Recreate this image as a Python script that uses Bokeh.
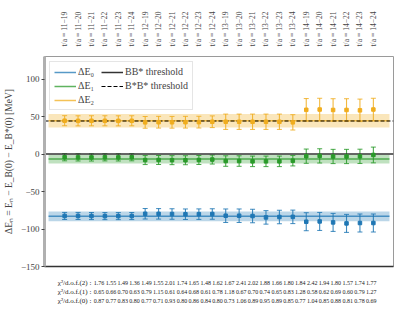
from bokeh.plotting import figure
from bokeh.models import (Range1d, FixedTicker, LinearAxis, Legend, LegendItem,
                          Whisker, TeeHead, ColumnDataSource)
from bokeh.layouts import column
from bokeh.core.properties import value
from bokeh.embed import file_html
from bokeh.resources import INLINE

# ---------------- data ----------------
fit_windows = ["t/a = 11−19", "t/a = 11−20", "t/a = 11−21", "t/a = 11−22", "t/a = 11−23", "t/a = 11−24",
               "t/a = 12−19", "t/a = 12−20", "t/a = 12−21", "t/a = 12−22", "t/a = 12−23", "t/a = 12−24",
               "t/a = 13−19", "t/a = 13−20", "t/a = 13−21", "t/a = 13−22", "t/a = 13−23", "t/a = 13−24",
               "t/a = 14−19", "t/a = 14−20", "t/a = 14−21", "t/a = 14−22", "t/a = 14−23", "t/a = 14−24"]
x_idx = list(range(len(fit_windows)))

dE0 = [-82.6, -82.6, -82.7, -82.8, -82.8, -82.7, -79.7, -79.8, -80.0, -80.3, -80.2, -80.0,
       -82.3, -82.3, -82.7, -84.5, -84.0, -83.8, -90.3, -89.9, -91.2, -92.5, -92.0, -92.0]
dE0_err = [4.7] * 6 + [7.0] * 6 + [9.0] * 6 + [12.0] * 6

dE1 = [-4.3, -4.5, -4.6, -4.4, -4.5, -4.3, -8.1, -8.0, -8.2, -8.3, -8.0, -7.4,
       -9.4, -9.4, -9.8, -9.8, -9.8, -8.9, -2.9, -2.5, -3.3, -3.3, -3.1, -1.3]
dE1_err = [4.8] * 6 + [6.0] * 6 + [7.0] * 6 + [9.5] * 5 + [10.5]

dE2 = [44.4, 44.2, 44.3, 44.3, 44.2, 44.3, 42.2, 42.4, 42.3, 42.4, 42.5, 43.0,
       43.0, 43.0, 43.0, 43.0, 43.0, 42.2, 58.9, 59.3, 58.7, 58.7, 58.2, 59.3]
dE2_err = [6.7] * 6 + [7.8] * 6 + [10.2] * 6 + [15.0] * 6

band_mean = [-83.0, -6.7, 44.4]
band_half = [6.5, 5.8, 8.9]

thr_bb = 0.0
thr_bsbs = 44.0

chi2_2 = [1.76, 1.55, 1.49, 1.36, 1.49, 1.55, 2.01, 1.74, 1.65, 1.48, 1.62, 1.67,
          2.41, 2.02, 1.88, 1.66, 1.80, 1.84, 2.42, 1.94, 1.80, 1.57, 1.74, 1.77]
chi2_1 = [0.65, 0.66, 0.70, 0.63, 0.79, 1.15, 0.61, 0.64, 0.68, 0.61, 0.78, 1.18,
          0.67, 0.70, 0.74, 0.65, 0.83, 1.28, 0.58, 0.62, 0.69, 0.60, 0.79, 1.27]
chi2_0 = [0.87, 0.77, 0.83, 0.80, 0.77, 0.71, 0.93, 0.80, 0.86, 0.84, 0.80, 0.73,
          1.06, 0.89, 0.95, 0.89, 0.85, 0.77, 1.04, 0.85, 0.88, 0.81, 0.78, 0.69]
row_labels = ["χ²/d.o.f.(2) :", "χ²/d.o.f.(1) :", "χ²/d.o.f.(0) :"]

y_ticks = [-150, -100, -50, 0, 50, 100]
legend_labels = ["ΔE₀", "ΔE₁", "ΔE₂", "BB* threshold", "B*B* threshold"]

# ---------------- style / layout ----------------
colors = ["#1f77b4", "#2a9a2a", "#f0ad1e"]
FONT = "Liberation Serif"
W = 398
B_LEFT, B_RIGHT, B_TOP, B_BOTTOM = 42, 5, 56, 4
H_MAIN, H_CHI = 270, 38
X_LO, X_HI = -1.5, 24.5
BAND_LO, BAND_HI = -1.2, 24.2

p = figure(width=W, height=H_MAIN, x_range=Range1d(X_LO, X_HI), y_range=Range1d(-150, 130),
           output_backend="svg", toolbar_location=None, x_axis_location=None,
           min_border_left=B_LEFT, min_border_right=B_RIGHT, min_border_top=B_TOP,
           min_border_bottom=B_BOTTOM)
p.grid.visible = False
p.outline_line_color = "#9a9a9a"
p.background_fill_color = "white"

# left axis
ya = p.yaxis[0]
ya.ticker = FixedTicker(ticks=y_ticks)
ya.major_label_overrides = {t: (str(t).replace("-", "−")) for t in y_ticks}
ya.axis_label = "ΔEₙ = Eₙ − E_B(0) − E_B*(0) [MeV]"
ya.axis_label_text_font = FONT
ya.axis_label_text_font_style = "normal"
ya.axis_label_text_font_size = "9.5px"
ya.axis_label_standoff = 4
ya.major_label_text_font = FONT
ya.major_label_text_font_size = "9px"
ya.major_label_standoff = 2
ya.major_tick_out = 3
ya.major_tick_in = 0
ya.major_tick_line_color = "#444444"
ya.minor_tick_line_color = None
ya.axis_line_color = "#b0b0b0"
ya.axis_line_width = 3

# top axis with fit windows
top_ax = LinearAxis(ticker=FixedTicker(ticks=x_idx),
                    major_label_overrides={i: lab for i, lab in zip(x_idx, fit_windows)},
                    major_label_orientation="vertical",
                    major_tick_line_color=None, minor_tick_line_color=None,
                    axis_line_color=None,
                    major_label_text_font=FONT, major_label_text_font_size="7.6px",
                    major_label_standoff=4)
p.add_layout(top_ax, "above")

# bottom spine
bot_ax = LinearAxis(ticker=FixedTicker(ticks=[]), axis_line_color="#333333", axis_line_width=1.5,
                    major_tick_line_color=None, minor_tick_line_color=None,
                    major_label_text_font_size="0px", major_tick_out=0, major_label_standoff=0)
p.add_layout(bot_ax, "below")

# bands
band_lines = []
for m, h, c in zip(band_mean, band_half, colors):
    p.varea(x=[BAND_LO, BAND_HI], y1=[m - h, m - h], y2=[m + h, m + h], fill_color=c, fill_alpha=0.3)
    band_lines.append(p.line(x=[BAND_LO, BAND_HI], y=[m, m], line_color=c, line_alpha=0.75, line_width=1.5))

# thresholds
l_bb = p.line(x=[X_LO, X_HI], y=[thr_bb, thr_bb], line_color="#333333", line_width=1.5)
l_bsbs = p.line(x=[X_LO, X_HI], y=[thr_bsbs, thr_bsbs], line_color="black", line_width=1.2, line_dash="4 2")

# points with errors
for vals, errs, c in zip([dE0, dE1, dE2], [dE0_err, dE1_err, dE2_err], colors):
    src = ColumnDataSource(dict(x=x_idx, y=vals,
                                lo=[v - e for v, e in zip(vals, errs)],
                                up=[v + e for v, e in zip(vals, errs)]))
    wk = Whisker(source=src, base="x", lower="lo", upper="up", line_color=c, line_width=1.1,
                 line_alpha=0.85,
                 lower_head=TeeHead(size=5, line_color=c, line_width=1, line_alpha=0.85),
                 upper_head=TeeHead(size=5, line_color=c, line_width=1, line_alpha=0.85))
    p.add_layout(wk)
    p.scatter("x", "y", source=src, marker="square", size=3.5, color=c)

legend = Legend(items=[LegendItem(label=legend_labels[0], renderers=[band_lines[0]]),
                       LegendItem(label=legend_labels[1], renderers=[band_lines[1]]),
                       LegendItem(label=legend_labels[2], renderers=[band_lines[2]]),
                       LegendItem(label=legend_labels[3], renderers=[l_bb]),
                       LegendItem(label=legend_labels[4], renderers=[l_bsbs])],
                ncols=2, location="top_left",
                label_text_font=FONT, label_text_font_size="10px",
                glyph_width=22, glyph_height=10, label_height=10, label_standoff=2,
                spacing=3, padding=4, margin=5,
                border_line_color="#cccccc", background_fill_alpha=0.9)
p.add_layout(legend)

# chi^2 rows below
px_per_unit = (W - B_LEFT - B_RIGHT) / (X_HI - X_LO)
cx_lo = X_LO - B_LEFT / px_per_unit
cx_hi = X_HI + B_RIGHT / px_per_unit
row_px = 8.8
y0 = -7.7 / row_px
c = figure(width=W, height=H_CHI, x_range=Range1d(cx_lo, cx_hi),
           y_range=Range1d(y0, y0 + H_CHI / row_px),
           output_backend="svg", toolbar_location=None,
           x_axis_location=None, y_axis_location=None, min_border=0)
c.grid.visible = False
c.outline_line_color = None

for r, vals in zip([2, 1, 0], [chi2_2, chi2_1, chi2_0]):
    c.text(x=x_idx, y=[r] * len(vals), text=[f"{v:.2f}" for v in vals],
           text_align="center", text_baseline="middle",
           text_font=value(FONT), text_font_size=value("6px"), text_color="#222222")
c.text(x=[-0.65] * 3, y=[2, 1, 0], text=row_labels, text_align="right", text_baseline="middle",
       text_font=value(FONT), text_font_size=value("7px"), text_color="#222222")

layout = column(p, c, spacing=0)
open("out.html", "w").write(file_html(layout, INLINE))
